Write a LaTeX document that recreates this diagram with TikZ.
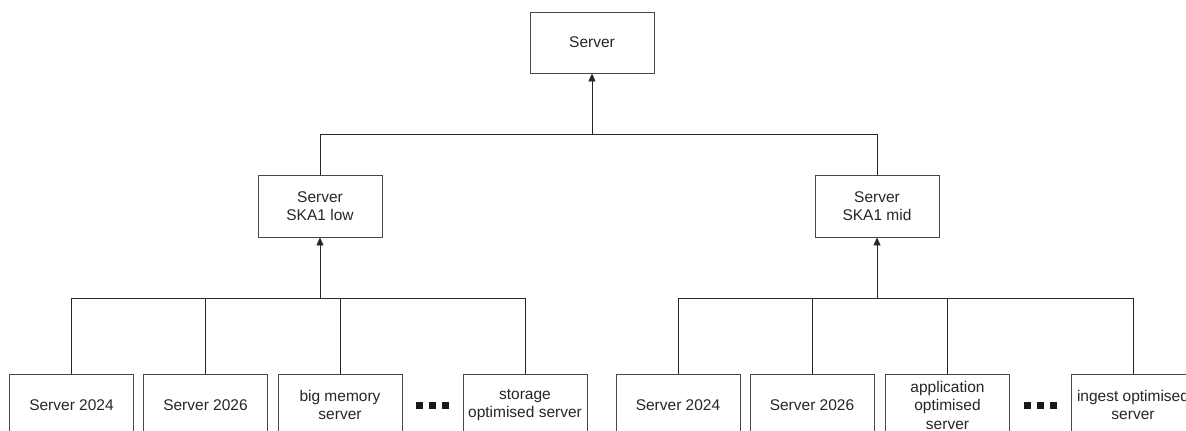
\documentclass[tikz,border=0pt]{standalone}
\usepackage{fontspec}
\setmainfont{Liberation Sans}
\usetikzlibrary{arrows.meta}
\begin{document}
\begin{tikzpicture}[x=1pt,y=-1pt,
  box/.style={draw=black!72, line width=0.9pt, minimum width=124pt, minimum height=62pt,
    align=center, inner sep=0pt, font=\fontsize{15.5}{18.5}\selectfont, text=black!85},
  conn/.style={draw=black!85, line width=0.9pt},
  arr/.style={conn, -{Triangle[length=8pt,width=7pt]}},
  dotsq/.style={fill=black!90, minimum size=7pt, inner sep=0pt}]
\clip (0,0) rectangle (1186,431);
\fill[white] (0,0) rectangle (1186,431);
% boxes
\node[box, minimum height=61pt] (root) at (592,42.5) {Server};
\node[box] (low) at (320,206) {Server\\SKA1 low};
\node[box] (mid) at (877,206) {Server\\SKA1 mid};
\node[box] (l1) at (71.5,405) {Server 2024};
\node[box] (l2) at (205.5,405) {Server 2026};
\node[box] (l3) at (340,405) {big memory\\server};
\node[box] (l4) at (525,405) {storage\\optimised server};
\node[box] (r1) at (678,405) {Server 2024};
\node[box] (r2) at (812,405) {Server 2026};
\node[box] (r3) at (947.5,405) {application\\optimised\\server};
\node[box] (r4) at (1133,405) {ingest optimised\\server};
% dots
\node[dotsq] (ld1) at (419,405) {};
\node[dotsq] (ld2) at (432,405) {};
\node[dotsq] (ld3) at (445,405) {};
\node[dotsq] (rd1) at (1027,405) {};
\node[dotsq] (rd2) at (1040,405) {};
\node[dotsq] (rd3) at (1053,405) {};
% bar coordinates
\coordinate (b1) at (592,134);
\coordinate (b2) at (320,298);
\coordinate (b3) at (877,298);
% top level
\draw[conn] (low.north) -- (low.north |- b1) -- (mid.north |- b1) -- (mid.north);
\draw[arr] (root.south |- b1) -- (root.south);
% left group
\draw[conn] (l1.north) -- (l1.north |- b2) -- (l4.north |- b2) -- (l4.north);
\draw[conn] (l2.north) -- (l2.north |- b2);
\draw[conn] (l3.north) -- (l3.north |- b2);
\draw[arr] (low.south |- b2) -- (low.south);
% right group
\draw[conn] (r1.north) -- (r1.north |- b3) -- (r4.north |- b3) -- (r4.north);
\draw[conn] (r2.north) -- (r2.north |- b3);
\draw[conn] (r3.north) -- (r3.north |- b3);
\draw[arr] (mid.south |- b3) -- (mid.south);
\end{tikzpicture}
\end{document}
